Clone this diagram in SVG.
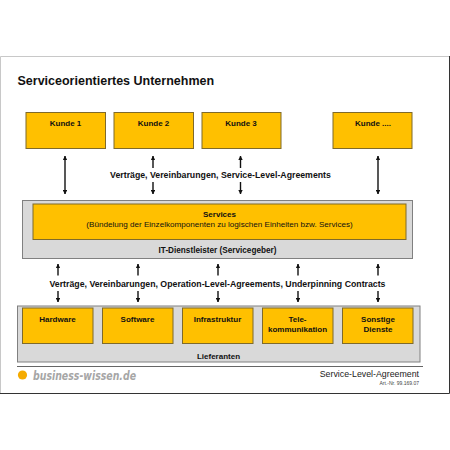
<svg xmlns="http://www.w3.org/2000/svg" width="450" height="450" viewBox="0 0 450 450">
<style>
text{font-family:"Liberation Sans",Arial,sans-serif;fill:#111}
.c{text-anchor:middle}
.b{font-weight:bold;font-size:8px}
.o{fill:#ffc000;stroke:#7f6a2a;stroke-width:1}
.g{fill:#d9d9d9;stroke:#808080;stroke-width:1}
.a{stroke:#111;stroke-width:1.400;fill:none}
</style>
<defs>
<marker id="h" viewBox="0 0 6 6" refX="5.5" refY="3" markerWidth="4.500" markerHeight="4.500" orient="auto-start-reverse" markerUnits="userSpaceOnUse"><path d="M0 0L6 3L0 6Z" fill="#111"/></marker>
</defs>
<rect width="450" height="450" fill="#fff"/>
<g id="frame">
<path d="M0.5 393V56.500H449" fill="none" stroke="#c8c8c8" stroke-width="1"/>
<path d="M449.500 56V393.500H0" fill="none" stroke="#333" stroke-width="1"/>
</g>
<text x="17.500" y="85" font-size="12.500" font-weight="bold">Serviceorientiertes Unternehmen</text>
<g id="kunde1"><rect class="o" x="26" y="112.500" width="79.500" height="36"/><text class="c b" x="65.500" y="126">Kunde 1</text></g>
<g id="kunde2"><rect class="o" x="114" y="112.500" width="79.500" height="36"/><text class="c b" x="153.500" y="126">Kunde 2</text></g>
<g id="kunde3"><rect class="o" x="202" y="112.500" width="79" height="36"/><text class="c b" x="241" y="126">Kunde 3</text></g>
<g id="kunde4"><rect class="o" x="333" y="112.500" width="79" height="36"/><text class="c b" x="373" y="126">Kunde ....</text></g>
<g id="it-dienstleister"><rect class="g" x="22.500" y="200.500" width="390" height="58"/><text class="c b" x="217.500" y="253" style="font-size:8.200px">IT-Dienstleister (Servicegeber)</text></g>
<g id="services"><rect class="o" x="33" y="204" width="373" height="35.500"/><text class="c b" x="219.500" y="217">Services</text><text class="c" x="219.500" y="227" font-size="8.100">(Bündelung der Einzelkomponenten zu logischen Einheiten bzw. Services)</text></g>
<g id="lieferanten"><rect class="g" x="17.500" y="306" width="402.500" height="56"/><text class="c b" x="218.500" y="358.500">Lieferanten</text></g>
<g id="hardware"><rect class="o" x="22.500" y="308" width="70.500" height="35.500"/><text class="c b" x="57.500" y="322">Hardware</text></g>
<g id="software"><rect class="o" x="102.500" y="308" width="70.500" height="35.500"/><text class="c b" x="137.500" y="322">Software</text></g>
<g id="infrastruktur"><rect class="o" x="182.500" y="308" width="70.500" height="35.500"/><text class="c b" x="217.500" y="322">Infrastruktur</text></g>
<g id="telekommunikation"><rect class="o" x="262.500" y="308" width="70.500" height="35.500"/><text class="c b" x="297.500" y="322">Tele-</text><text class="c b" x="297.500" y="331.500">kommunikation</text></g>
<g id="sonstige"><rect class="o" x="342.500" y="308" width="70.500" height="35.500"/><text class="c b" x="378" y="322">Sonstige</text><text class="c b" x="378" y="331.500">Dienste</text></g>
<g id="connectors">
<line class="a" x1="65" y1="156" x2="65" y2="194" marker-start="url(#h)" marker-end="url(#h)"/>
<line class="a" x1="378" y1="156" x2="378" y2="194" marker-start="url(#h)" marker-end="url(#h)"/>
<line class="a" x1="153" y1="168" x2="153" y2="156" marker-end="url(#h)"/>
<line class="a" x1="153" y1="182" x2="153" y2="194" marker-end="url(#h)"/>
<line class="a" x1="240.500" y1="168" x2="240.500" y2="156" marker-end="url(#h)"/>
<line class="a" x1="240.500" y1="182" x2="240.500" y2="194" marker-end="url(#h)"/>
<line class="a" x1="58" y1="275.500" x2="58" y2="264" marker-end="url(#h)"/>
<line class="a" x1="58" y1="291" x2="58" y2="302" marker-end="url(#h)"/>
<line class="a" x1="138" y1="275.500" x2="138" y2="264" marker-end="url(#h)"/>
<line class="a" x1="138" y1="291" x2="138" y2="302" marker-end="url(#h)"/>
<line class="a" x1="218" y1="275.500" x2="218" y2="264" marker-end="url(#h)"/>
<line class="a" x1="218" y1="291" x2="218" y2="302" marker-end="url(#h)"/>
<line class="a" x1="298" y1="275.500" x2="298" y2="264" marker-end="url(#h)"/>
<line class="a" x1="298" y1="291" x2="298" y2="302" marker-end="url(#h)"/>
<line class="a" x1="378" y1="275.500" x2="378" y2="264" marker-end="url(#h)"/>
<line class="a" x1="378" y1="291" x2="378" y2="302" marker-end="url(#h)"/>
</g>
<text class="c" x="220.500" y="178" font-size="8.750" font-weight="bold">Verträge, Vereinbarungen, Service-Level-Agreements</text>
<text class="c" x="217.500" y="287" font-size="8.750" font-weight="bold">Verträge, Vereinbarungen, Operation-Level-Agreements, Underpinning Contracts</text>
<g id="footer">
<line x1="17" y1="366.500" x2="423" y2="366.500" stroke="#666" stroke-width="1"/>
<circle cx="22.500" cy="375" r="4.600" fill="#f5ab00"/>
<text x="33" y="380" font-size="13" font-weight="bold" font-style="italic" style="font-family:'DejaVu Sans',sans-serif;fill:#a6a6a6" textLength="103" lengthAdjust="spacingAndGlyphs">business-wissen.de</text>
<text x="419" y="377" font-size="8.800" text-anchor="end" style="fill:#222">Service-Level-Agreement</text>
<text x="419" y="384.500" font-size="5" text-anchor="end" style="fill:#444">Art.-Nr. 99.169.07</text>
</g>
</svg>
